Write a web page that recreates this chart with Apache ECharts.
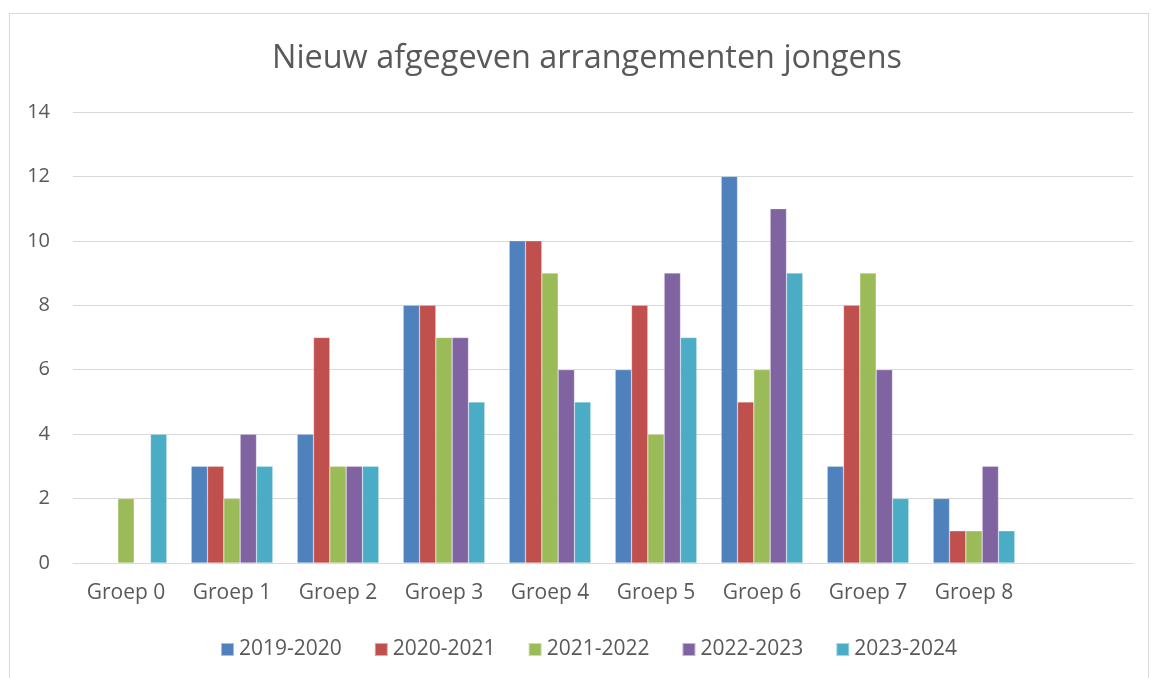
<!DOCTYPE html>
<html>
<head>
<meta charset="utf-8">
<script src="https://cdn.jsdelivr.net/npm/echarts@6/dist/echarts.min.js"></script>
<style>
  html, body { margin: 0; padding: 0; background: #fff; }
  #frame { position: absolute; left: 9px; top: 13px; width: 1138px; height: 700px; border: 1px solid #d9d9d9; }
  #chart { position: absolute; left: 0; top: 0; width: 1151px; height: 678px; }
</style>
</head>
<body>
<div id="frame"></div>
<div id="chart"></div>
<script>
// categorieën (laatste is leeg in het origineel)
const groepen = ['Groep 0', 'Groep 1', 'Groep 2', 'Groep 3', 'Groep 4', 'Groep 5', 'Groep 6', 'Groep 7', 'Groep 8', ''];
const jaren = ['2019-2020', '2020-2021', '2021-2022', '2022-2023', '2023-2024'];

const j2019 = [null, 3, 4, 8, 10, 6, 12, 3, 2, null];
const j2020 = [null, 3, 7, 8, 10, 8, 5, 8, 1, null];
const j2021 = [2, 2, 3, 7, 9, 4, 6, 9, 1, null];
const j2022 = [null, 4, 3, 7, 6, 9, 11, 6, 3, null];
const j2023 = [4, 3, 3, 5, 5, 7, 9, 2, 1, null];

const kleuren = ['#4f81bd', '#c0504d', '#9bbb59', '#8064a2', '#4bacc6'];
const reeksen = [j2019, j2020, j2021, j2022, j2023];

const font = '"Open Sans", "Liberation Sans", sans-serif';
const myChart = echarts.init(document.getElementById('chart'));

const option = {
  animation: false,
  color: kleuren,
  title: {
    text: 'Nieuw afgegeven arrangementen jongens',
    left: 267,
    top: 38,
    textStyle: { color: '#595959', fontSize: 32.4, fontWeight: 'normal', fontFamily: font }
  },
  legend: {
    bottom: 13,
    left: 215,
    itemWidth: 13,
    itemHeight: 13,
    itemGap: 32,
    icon: 'rect',
    textStyle: { color: '#595959', fontSize: 21, fontFamily: font },
    data: jaren
  },
  grid: { left: 73, right: 18, top: 112, bottom: 115 },
  xAxis: {
    type: 'category',
    data: groepen,
    axisLine: { lineStyle: { color: '#d9d9d9', width: 1 } },
    axisTick: { show: false },
    axisLabel: { color: '#595959', fontSize: 21, fontFamily: font, margin: 20, interval: 0 }
  },
  yAxis: {
    type: 'value',
    min: 0,
    max: 14,
    interval: 2,
    axisLine: { show: false },
    axisTick: { show: false },
    axisLabel: { color: '#595959', fontSize: 20, fontFamily: font, margin: 23 },
    splitLine: { lineStyle: { color: '#d9d9d9', width: 1 } }
  },
  series: reeksen.map((d, i) => ({
    name: jaren[i],
    type: 'bar',
    data: d,
    barGap: '0%',
    barCategoryGap: '23%',
    itemStyle: { color: kleuren[i], borderColor: 'rgba(255,255,255,0.5)', borderWidth: 0.5 }
  }))
};

myChart.setOption(option);
</script>
</body>
</html>
